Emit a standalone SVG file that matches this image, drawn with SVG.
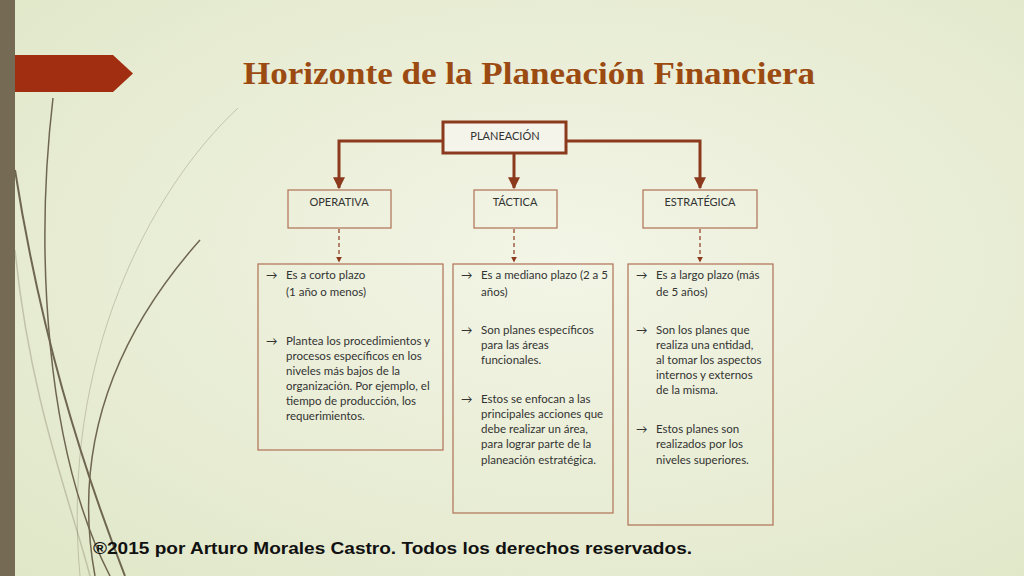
<svg xmlns="http://www.w3.org/2000/svg" width="1024" height="576" viewBox="0 0 1024 576">
<defs>
<radialGradient id="bg" cx="0.55" cy="0.45" r="0.8">
<stop offset="0" stop-color="#f3f5e6"/><stop offset="1" stop-color="#dfe6c6"/>
</radialGradient>
<marker id="ah" viewBox="0 0 10 10" refX="9" refY="5" markerWidth="4" markerHeight="4" orient="auto"><path d="M0,0L10,5L0,10z" fill="#8b3a1e"/></marker>
<marker id="ah2" viewBox="0 0 10 10" refX="9" refY="5" markerWidth="5" markerHeight="5" orient="auto"><path d="M0,0L10,5L0,10z" fill="#8b3a1e"/></marker>
<style>
.t{font-family:Lato,"Open Sans",sans-serif;font-size:11.5px;fill:#333}
.h{font-family:Lato,"Open Sans",sans-serif;font-size:11px;fill:#333;text-anchor:middle}
.b2{fill:none;stroke:#b07055;stroke-width:1.2}
.c{fill:none;stroke:#8b3a1e;stroke-width:3}
.d{fill:none;stroke:#8b3a1e;stroke-width:1.2;stroke-dasharray:4,3}
.dec{fill:none;stroke:#6f6650}
</style>
</defs>
<rect width="1024" height="576" fill="url(#bg)"/>
<path class="dec" stroke-width="2" d="M15,170 C40,330 80,460 125,576"/>
<path class="dec" stroke-width="1.5" d="M53,98 C35,250 45,450 110,576"/>
<path class="dec" stroke-width="1.5" d="M200,240 C120,330 70,440 95,576"/>
<path class="dec" stroke-width="1" stroke-opacity="0.3" d="M238,108 C150,190 60,360 80,576"/>
<path class="dec" stroke-width="1.5" stroke-opacity="0.3" d="M15,250 C30,400 70,500 90,576"/>
<path d="M0,55H113L133,73.5L113,92H0z" fill="#a22e12"/>
<rect x="0" y="0" width="15" height="576" fill="#756b55"/>
<text x="243" y="84" font-family="Liberation Serif,serif" font-weight="bold" font-size="31" fill="#9b4b12" textLength="572" lengthAdjust="spacingAndGlyphs">Horizonte de la Planeación Financiera</text>
<g id="connectors">
<path class="c" d="M443,141H339V188" marker-end="url(#ah)"/>
<path class="c" d="M514,153V188" marker-end="url(#ah)"/>
<path class="c" d="M566,141H700V188" marker-end="url(#ah)"/>
<path class="d" d="M339,229V262" marker-end="url(#ah2)"/>
<path class="d" d="M514,229V262" marker-end="url(#ah2)"/>
<path class="d" d="M700,229V262" marker-end="url(#ah2)"/>
</g>
<g id="planeacion"><rect x="443" y="122" width="123" height="31" fill="#f5f4ea" stroke="#8b3a1e" stroke-width="3"/><text class="h" x="505" y="140">PLANEACIÓN</text></g>
<g id="operativa"><rect class="b2" x="288" y="190" width="103" height="38" fill="#f5f4ea"/><text class="h" x="339" y="206">OPERATIVA</text></g>
<g id="tactica"><rect class="b2" x="474" y="190" width="83" height="38" fill="#f5f4ea"/><text class="h" x="515" y="206">TÁCTICA</text></g>
<g id="estrategica"><rect class="b2" x="643" y="190" width="114" height="38" fill="#f5f4ea"/><text class="h" x="700" y="206">ESTRATÉGICA</text></g>
<g id="det1"><rect class="b2" x="258" y="264" width="185" height="186" fill="#f5f4ea"/>
<text class="t"><tspan x="266" y="279">→</tspan><tspan x="286" y="279">Es a corto plazo</tspan><tspan x="286" y="296">(1 año o menos)</tspan>
<tspan x="266" y="345">→</tspan><tspan x="286" y="345">Plantea los procedimientos y</tspan><tspan x="286" y="360">procesos específicos en los</tspan><tspan x="286" y="375">niveles más bajos de la</tspan><tspan x="286" y="390">organización. Por ejemplo, el</tspan><tspan x="286" y="405">tiempo de producción, los</tspan><tspan x="286" y="420">requerimientos.</tspan></text></g>
<g id="det2"><rect class="b2" x="453" y="264" width="160" height="249" fill="#f5f4ea"/>
<text class="t"><tspan x="461" y="279">→</tspan><tspan x="481" y="279">Es a mediano plazo (2 a 5</tspan><tspan x="481" y="296">años)</tspan>
<tspan x="461" y="334">→</tspan><tspan x="481" y="334">Son planes específicos</tspan><tspan x="481" y="349">para las áreas</tspan><tspan x="481" y="364">funcionales.</tspan>
<tspan x="461" y="403">→</tspan><tspan x="481" y="403">Estos se enfocan a las</tspan><tspan x="481" y="418">principales acciones que</tspan><tspan x="481" y="433">debe realizar un área,</tspan><tspan x="481" y="448">para lograr parte de la</tspan><tspan x="481" y="464">planeación estratégica.</tspan></text></g>
<g id="det3"><rect class="b2" x="628" y="264" width="145" height="261" fill="#f5f4ea"/>
<text class="t"><tspan x="636" y="279">→</tspan><tspan x="656" y="279">Es a largo plazo (más</tspan><tspan x="656" y="296">de 5 años)</tspan>
<tspan x="636" y="334">→</tspan><tspan x="656" y="334">Son los planes que</tspan><tspan x="656" y="349">realiza una entidad,</tspan><tspan x="656" y="364">al tomar los aspectos</tspan><tspan x="656" y="379">internos y externos</tspan><tspan x="656" y="394">de la misma.</tspan>
<tspan x="636" y="433">→</tspan><tspan x="656" y="433">Estos planes son</tspan><tspan x="656" y="448">realizados por los</tspan><tspan x="656" y="464">niveles superiores.</tspan></text></g>
<text x="93" y="554" font-family="Liberation Sans,sans-serif" font-weight="bold" font-size="17" fill="#111" textLength="599" lengthAdjust="spacingAndGlyphs">®2015 por Arturo Morales Castro. Todos los derechos reservados.</text>
</svg>
